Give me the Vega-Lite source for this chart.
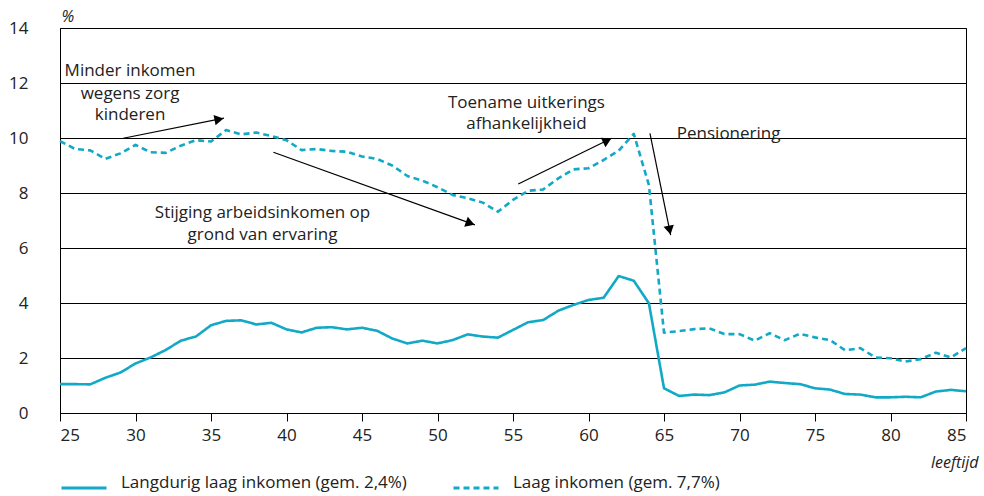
{
  "$schema": "https://vega.github.io/schema/vega-lite/v6.json",
  "width": 906,
  "height": 385,
  "autosize": {"type": "none"},
  "padding": {"left": 60, "top": 28, "right": 18, "bottom": 83},
  "background": "white",
  "config": {
    "font": "Open Sans",
    "view": {"stroke": "#000", "strokeWidth": 1},
    "text": {"font": "Open Sans"}
  },
  "datasets": {
    "arrows": [
      {"x": 29.19, "y": 9.99, "x2": 35.86, "y2": 10.72, "hx": 35.53, "hy": 10.68, "angle": 78.8},
      {"x": 39.13, "y": 9.48, "x2": 52.48, "y2": 6.84, "hx": 52.17, "hy": 6.90, "angle": 109.8},
      {"x": 55.35, "y": 8.33, "x2": 61.53, "y2": 9.99, "hx": 61.24, "hy": 9.91, "angle": 63.9},
      {"x": 64.07, "y": 10.17, "x2": 65.44, "y2": 6.47, "hx": 65.37, "hy": 6.65, "angle": 168.5}
    ],
    "labels": [
      {"x": 29.64, "y": 12.25, "text": "Minder inkomen"},
      {"x": 29.64, "y": 11.41, "text": "wegens zorg"},
      {"x": 29.64, "y": 10.65, "text": "kinderen"},
      {"x": 38.41, "y": 7.08, "text": "Stijging arbeidsinkomen op"},
      {"x": 38.41, "y": 6.29, "text": "grond van ervaring"},
      {"x": 55.89, "y": 11.08, "text": "Toename uitkerings"},
      {"x": 55.89, "y": 10.32, "text": "afhankelijkheid"},
      {"x": 69.28, "y": 9.96, "text": "Pensionering"}
    ]
  },
  "data": {
    "values": [
      {"leeftijd": 25, "reeks": "Langdurig laag inkomen (gem. 2,4%)", "waarde": 1.05},
      {"leeftijd": 26, "reeks": "Langdurig laag inkomen (gem. 2,4%)", "waarde": 1.05},
      {"leeftijd": 27, "reeks": "Langdurig laag inkomen (gem. 2,4%)", "waarde": 1.04},
      {"leeftijd": 28, "reeks": "Langdurig laag inkomen (gem. 2,4%)", "waarde": 1.28},
      {"leeftijd": 29, "reeks": "Langdurig laag inkomen (gem. 2,4%)", "waarde": 1.47},
      {"leeftijd": 30, "reeks": "Langdurig laag inkomen (gem. 2,4%)", "waarde": 1.8},
      {"leeftijd": 31, "reeks": "Langdurig laag inkomen (gem. 2,4%)", "waarde": 2.02},
      {"leeftijd": 32, "reeks": "Langdurig laag inkomen (gem. 2,4%)", "waarde": 2.29},
      {"leeftijd": 33, "reeks": "Langdurig laag inkomen (gem. 2,4%)", "waarde": 2.63},
      {"leeftijd": 34, "reeks": "Langdurig laag inkomen (gem. 2,4%)", "waarde": 2.78},
      {"leeftijd": 35, "reeks": "Langdurig laag inkomen (gem. 2,4%)", "waarde": 3.19},
      {"leeftijd": 36, "reeks": "Langdurig laag inkomen (gem. 2,4%)", "waarde": 3.35},
      {"leeftijd": 37, "reeks": "Langdurig laag inkomen (gem. 2,4%)", "waarde": 3.37},
      {"leeftijd": 38, "reeks": "Langdurig laag inkomen (gem. 2,4%)", "waarde": 3.22},
      {"leeftijd": 39, "reeks": "Langdurig laag inkomen (gem. 2,4%)", "waarde": 3.28},
      {"leeftijd": 40, "reeks": "Langdurig laag inkomen (gem. 2,4%)", "waarde": 3.04},
      {"leeftijd": 41, "reeks": "Langdurig laag inkomen (gem. 2,4%)", "waarde": 2.93},
      {"leeftijd": 42, "reeks": "Langdurig laag inkomen (gem. 2,4%)", "waarde": 3.1},
      {"leeftijd": 43, "reeks": "Langdurig laag inkomen (gem. 2,4%)", "waarde": 3.12},
      {"leeftijd": 44, "reeks": "Langdurig laag inkomen (gem. 2,4%)", "waarde": 3.04},
      {"leeftijd": 45, "reeks": "Langdurig laag inkomen (gem. 2,4%)", "waarde": 3.1},
      {"leeftijd": 46, "reeks": "Langdurig laag inkomen (gem. 2,4%)", "waarde": 2.99},
      {"leeftijd": 47, "reeks": "Langdurig laag inkomen (gem. 2,4%)", "waarde": 2.71},
      {"leeftijd": 48, "reeks": "Langdurig laag inkomen (gem. 2,4%)", "waarde": 2.53},
      {"leeftijd": 49, "reeks": "Langdurig laag inkomen (gem. 2,4%)", "waarde": 2.63},
      {"leeftijd": 50, "reeks": "Langdurig laag inkomen (gem. 2,4%)", "waarde": 2.53},
      {"leeftijd": 51, "reeks": "Langdurig laag inkomen (gem. 2,4%)", "waarde": 2.65},
      {"leeftijd": 52, "reeks": "Langdurig laag inkomen (gem. 2,4%)", "waarde": 2.86},
      {"leeftijd": 53, "reeks": "Langdurig laag inkomen (gem. 2,4%)", "waarde": 2.78},
      {"leeftijd": 54, "reeks": "Langdurig laag inkomen (gem. 2,4%)", "waarde": 2.74},
      {"leeftijd": 55, "reeks": "Langdurig laag inkomen (gem. 2,4%)", "waarde": 3.02},
      {"leeftijd": 56, "reeks": "Langdurig laag inkomen (gem. 2,4%)", "waarde": 3.3},
      {"leeftijd": 57, "reeks": "Langdurig laag inkomen (gem. 2,4%)", "waarde": 3.38},
      {"leeftijd": 58, "reeks": "Langdurig laag inkomen (gem. 2,4%)", "waarde": 3.72},
      {"leeftijd": 59, "reeks": "Langdurig laag inkomen (gem. 2,4%)", "waarde": 3.93},
      {"leeftijd": 60, "reeks": "Langdurig laag inkomen (gem. 2,4%)", "waarde": 4.11},
      {"leeftijd": 61, "reeks": "Langdurig laag inkomen (gem. 2,4%)", "waarde": 4.19},
      {"leeftijd": 62, "reeks": "Langdurig laag inkomen (gem. 2,4%)", "waarde": 4.98},
      {"leeftijd": 63, "reeks": "Langdurig laag inkomen (gem. 2,4%)", "waarde": 4.81},
      {"leeftijd": 64, "reeks": "Langdurig laag inkomen (gem. 2,4%)", "waarde": 3.99},
      {"leeftijd": 65, "reeks": "Langdurig laag inkomen (gem. 2,4%)", "waarde": 0.9},
      {"leeftijd": 66, "reeks": "Langdurig laag inkomen (gem. 2,4%)", "waarde": 0.62},
      {"leeftijd": 67, "reeks": "Langdurig laag inkomen (gem. 2,4%)", "waarde": 0.67},
      {"leeftijd": 68, "reeks": "Langdurig laag inkomen (gem. 2,4%)", "waarde": 0.65},
      {"leeftijd": 69, "reeks": "Langdurig laag inkomen (gem. 2,4%)", "waarde": 0.75},
      {"leeftijd": 70, "reeks": "Langdurig laag inkomen (gem. 2,4%)", "waarde": 1.0},
      {"leeftijd": 71, "reeks": "Langdurig laag inkomen (gem. 2,4%)", "waarde": 1.03},
      {"leeftijd": 72, "reeks": "Langdurig laag inkomen (gem. 2,4%)", "waarde": 1.14},
      {"leeftijd": 73, "reeks": "Langdurig laag inkomen (gem. 2,4%)", "waarde": 1.09},
      {"leeftijd": 74, "reeks": "Langdurig laag inkomen (gem. 2,4%)", "waarde": 1.05},
      {"leeftijd": 75, "reeks": "Langdurig laag inkomen (gem. 2,4%)", "waarde": 0.9},
      {"leeftijd": 76, "reeks": "Langdurig laag inkomen (gem. 2,4%)", "waarde": 0.85},
      {"leeftijd": 77, "reeks": "Langdurig laag inkomen (gem. 2,4%)", "waarde": 0.69},
      {"leeftijd": 78, "reeks": "Langdurig laag inkomen (gem. 2,4%)", "waarde": 0.67},
      {"leeftijd": 79, "reeks": "Langdurig laag inkomen (gem. 2,4%)", "waarde": 0.57},
      {"leeftijd": 80, "reeks": "Langdurig laag inkomen (gem. 2,4%)", "waarde": 0.57},
      {"leeftijd": 81, "reeks": "Langdurig laag inkomen (gem. 2,4%)", "waarde": 0.59},
      {"leeftijd": 82, "reeks": "Langdurig laag inkomen (gem. 2,4%)", "waarde": 0.57},
      {"leeftijd": 83, "reeks": "Langdurig laag inkomen (gem. 2,4%)", "waarde": 0.78},
      {"leeftijd": 84, "reeks": "Langdurig laag inkomen (gem. 2,4%)", "waarde": 0.84},
      {"leeftijd": 85, "reeks": "Langdurig laag inkomen (gem. 2,4%)", "waarde": 0.79},
      {"leeftijd": 25, "reeks": "Laag inkomen (gem. 7,7%)", "waarde": 9.89},
      {"leeftijd": 26, "reeks": "Laag inkomen (gem. 7,7%)", "waarde": 9.6},
      {"leeftijd": 27, "reeks": "Laag inkomen (gem. 7,7%)", "waarde": 9.55},
      {"leeftijd": 28, "reeks": "Laag inkomen (gem. 7,7%)", "waarde": 9.24},
      {"leeftijd": 29, "reeks": "Laag inkomen (gem. 7,7%)", "waarde": 9.44},
      {"leeftijd": 30, "reeks": "Laag inkomen (gem. 7,7%)", "waarde": 9.75},
      {"leeftijd": 31, "reeks": "Laag inkomen (gem. 7,7%)", "waarde": 9.48},
      {"leeftijd": 32, "reeks": "Laag inkomen (gem. 7,7%)", "waarde": 9.46},
      {"leeftijd": 33, "reeks": "Laag inkomen (gem. 7,7%)", "waarde": 9.72},
      {"leeftijd": 34, "reeks": "Laag inkomen (gem. 7,7%)", "waarde": 9.92},
      {"leeftijd": 35, "reeks": "Laag inkomen (gem. 7,7%)", "waarde": 9.87},
      {"leeftijd": 36, "reeks": "Laag inkomen (gem. 7,7%)", "waarde": 10.29},
      {"leeftijd": 37, "reeks": "Laag inkomen (gem. 7,7%)", "waarde": 10.13},
      {"leeftijd": 38, "reeks": "Laag inkomen (gem. 7,7%)", "waarde": 10.2},
      {"leeftijd": 39, "reeks": "Laag inkomen (gem. 7,7%)", "waarde": 10.07},
      {"leeftijd": 40, "reeks": "Laag inkomen (gem. 7,7%)", "waarde": 9.92},
      {"leeftijd": 41, "reeks": "Laag inkomen (gem. 7,7%)", "waarde": 9.56},
      {"leeftijd": 42, "reeks": "Laag inkomen (gem. 7,7%)", "waarde": 9.6},
      {"leeftijd": 43, "reeks": "Laag inkomen (gem. 7,7%)", "waarde": 9.53},
      {"leeftijd": 44, "reeks": "Laag inkomen (gem. 7,7%)", "waarde": 9.5},
      {"leeftijd": 45, "reeks": "Laag inkomen (gem. 7,7%)", "waarde": 9.33},
      {"leeftijd": 46, "reeks": "Laag inkomen (gem. 7,7%)", "waarde": 9.24},
      {"leeftijd": 47, "reeks": "Laag inkomen (gem. 7,7%)", "waarde": 9.0},
      {"leeftijd": 48, "reeks": "Laag inkomen (gem. 7,7%)", "waarde": 8.62},
      {"leeftijd": 49, "reeks": "Laag inkomen (gem. 7,7%)", "waarde": 8.45},
      {"leeftijd": 50, "reeks": "Laag inkomen (gem. 7,7%)", "waarde": 8.21},
      {"leeftijd": 51, "reeks": "Laag inkomen (gem. 7,7%)", "waarde": 7.93},
      {"leeftijd": 52, "reeks": "Laag inkomen (gem. 7,7%)", "waarde": 7.81},
      {"leeftijd": 53, "reeks": "Laag inkomen (gem. 7,7%)", "waarde": 7.65},
      {"leeftijd": 54, "reeks": "Laag inkomen (gem. 7,7%)", "waarde": 7.32},
      {"leeftijd": 55, "reeks": "Laag inkomen (gem. 7,7%)", "waarde": 7.75},
      {"leeftijd": 56, "reeks": "Laag inkomen (gem. 7,7%)", "waarde": 8.08},
      {"leeftijd": 57, "reeks": "Laag inkomen (gem. 7,7%)", "waarde": 8.13},
      {"leeftijd": 58, "reeks": "Laag inkomen (gem. 7,7%)", "waarde": 8.53},
      {"leeftijd": 59, "reeks": "Laag inkomen (gem. 7,7%)", "waarde": 8.86},
      {"leeftijd": 60, "reeks": "Laag inkomen (gem. 7,7%)", "waarde": 8.9},
      {"leeftijd": 61, "reeks": "Laag inkomen (gem. 7,7%)", "waarde": 9.2},
      {"leeftijd": 62, "reeks": "Laag inkomen (gem. 7,7%)", "waarde": 9.54},
      {"leeftijd": 63, "reeks": "Laag inkomen (gem. 7,7%)", "waarde": 10.15},
      {"leeftijd": 64, "reeks": "Laag inkomen (gem. 7,7%)", "waarde": 8.29},
      {"leeftijd": 65, "reeks": "Laag inkomen (gem. 7,7%)", "waarde": 2.92},
      {"leeftijd": 66, "reeks": "Laag inkomen (gem. 7,7%)", "waarde": 2.98},
      {"leeftijd": 67, "reeks": "Laag inkomen (gem. 7,7%)", "waarde": 3.05},
      {"leeftijd": 68, "reeks": "Laag inkomen (gem. 7,7%)", "waarde": 3.08},
      {"leeftijd": 69, "reeks": "Laag inkomen (gem. 7,7%)", "waarde": 2.87},
      {"leeftijd": 70, "reeks": "Laag inkomen (gem. 7,7%)", "waarde": 2.87},
      {"leeftijd": 71, "reeks": "Laag inkomen (gem. 7,7%)", "waarde": 2.63},
      {"leeftijd": 72, "reeks": "Laag inkomen (gem. 7,7%)", "waarde": 2.9},
      {"leeftijd": 73, "reeks": "Laag inkomen (gem. 7,7%)", "waarde": 2.65},
      {"leeftijd": 74, "reeks": "Laag inkomen (gem. 7,7%)", "waarde": 2.88},
      {"leeftijd": 75, "reeks": "Laag inkomen (gem. 7,7%)", "waarde": 2.75},
      {"leeftijd": 76, "reeks": "Laag inkomen (gem. 7,7%)", "waarde": 2.65},
      {"leeftijd": 77, "reeks": "Laag inkomen (gem. 7,7%)", "waarde": 2.28},
      {"leeftijd": 78, "reeks": "Laag inkomen (gem. 7,7%)", "waarde": 2.36},
      {"leeftijd": 79, "reeks": "Laag inkomen (gem. 7,7%)", "waarde": 2.02},
      {"leeftijd": 80, "reeks": "Laag inkomen (gem. 7,7%)", "waarde": 1.99},
      {"leeftijd": 81, "reeks": "Laag inkomen (gem. 7,7%)", "waarde": 1.87},
      {"leeftijd": 82, "reeks": "Laag inkomen (gem. 7,7%)", "waarde": 1.96},
      {"leeftijd": 83, "reeks": "Laag inkomen (gem. 7,7%)", "waarde": 2.19},
      {"leeftijd": 84, "reeks": "Laag inkomen (gem. 7,7%)", "waarde": 2.02},
      {"leeftijd": 85, "reeks": "Laag inkomen (gem. 7,7%)", "waarde": 2.36}
    ]
  },
  "layer": [
    {
      "mark": {"type": "line", "color": "#12a9c6", "strokeWidth": 2.6, "strokeJoin": "round"},
      "encoding": {
        "x": {
          "field": "leeftijd", "type": "quantitative",
          "scale": {"domain": [25, 85], "nice": false, "zero": false},
          "axis": {
            "values": [25, 30, 35, 40, 45, 50, 55, 60, 65, 70, 75, 80, 85],
            "grid": false, "domainColor": "#000", "domainWidth": 1,
            "tickColor": "#000", "tickSize": 8, "labelPadding": 6,
            "labelFontSize": 17, "labelColor": "#222", "labelFont": "Open Sans",
            "title": "leeftijd", "titleFontStyle": "italic", "titleFontWeight": "normal",
            "titleFontSize": 16, "titleColor": "#222", "titleFont": "Open Sans",
            "titleAnchor": "end", "titleAlign": "right", "titleBaseline": "middle",
            "titleX": 918, "titleY": 49
          }
        },
        "y": {
          "field": "waarde", "type": "quantitative",
          "scale": {"domain": [0, 14], "nice": false},
          "axis": {
            "values": [0, 2, 4, 6, 8, 10, 12, 14],
            "grid": true, "gridColor": "#000", "gridWidth": 1, "gridOpacity": 1,
            "domainColor": "#000", "ticks": false, "tickSize": 0, "labelPadding": 32,
            "labelFontSize": 17, "labelColor": "#222", "labelFont": "Open Sans",
            "title": "%", "titleAngle": 0, "titleFontStyle": "italic", "titleFontWeight": "normal",
            "titleFontSize": 16, "titleColor": "#222", "titleAlign": "left", "titleBaseline": "middle",
            "titleX": 1, "titleY": -12
          }
        },
        "strokeDash": {
          "field": "reeks", "type": "nominal",
          "scale": {
            "domain": ["Langdurig laag inkomen (gem. 2,4%)", "Laag inkomen (gem. 7,7%)"],
            "range": [[1, 0], [6, 4]]
          },
          "legend": {
            "title": null, "orient": "none", "legendX": 0, "legendY": 436,
            "direction": "horizontal", "columns": 2, "columnPadding": 40,
            "symbolType": "stroke", "symbolSize": 2025, "symbolStrokeWidth": 3,
            "symbolStrokeColor": "#12a9c6", "labelOffset": 13, "labelFontSize": 17,
            "labelBaseline": "alphabetic",
            "labelColor": "#222", "labelFont": "Open Sans", "labelLimit": 400, "padding": 0
          }
        }
      }
    },
    {
      "data": {"name": "arrows"},
      "mark": {"type": "rule", "color": "#000", "strokeWidth": 1.2},
      "encoding": {
        "x": {"field": "x", "type": "quantitative"},
        "y": {"field": "y", "type": "quantitative"},
        "x2": {"field": "x2"},
        "y2": {"field": "y2"}
      }
    },
    {
      "data": {"name": "arrows"},
      "mark": {"type": "point", "shape": "triangle-up", "filled": true, "color": "#000", "size": 110, "opacity": 1},
      "encoding": {
        "x": {"field": "hx", "type": "quantitative"},
        "y": {"field": "hy", "type": "quantitative"},
        "angle": {"field": "angle", "type": "quantitative", "scale": null}
      }
    },
    {
      "data": {"name": "labels"},
      "mark": {"type": "text", "align": "center", "baseline": "alphabetic", "fontSize": 17, "color": "#222", "font": "Open Sans"},
      "encoding": {
        "x": {"field": "x", "type": "quantitative"},
        "y": {"field": "y", "type": "quantitative"},
        "text": {"field": "text", "type": "nominal"}
      }
    }
  ]
}
